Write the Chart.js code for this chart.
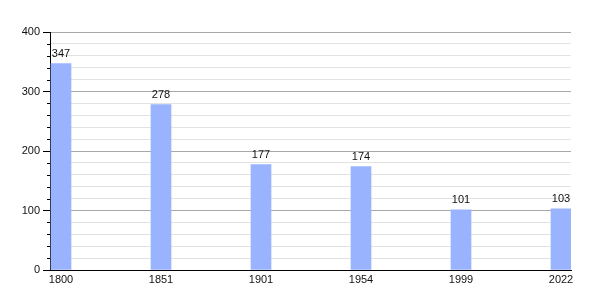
<!DOCTYPE html>
<html>
<head>
<meta charset="utf-8">
<script src="https://cdn.jsdelivr.net/npm/chart.js@4"></script>
<style>
  html, body { margin: 0; padding: 0; background: #fff; }
  #wrap { width: 600px; height: 300px; }
</style>
</head>
<body>
<div id="wrap"><canvas id="myChart"></canvas></div>
<script>
let years = ['1800', '1851', '1901', '1954', '1999', '2022'];
let population = [347, 278, 177, 174, 101, 103];
let yTicks = [0, 100, 200, 300, 400];

// value labels above each bar
let valueLabels = {
    id: 'valueLabels',
    afterDatasetsDraw: function(chart) {
        let c = chart.ctx;
        let meta = chart.getDatasetMeta(0);
        c.save();
        c.font = '11px "Liberation Sans", Arial, sans-serif';
        c.fillStyle = '#111';
        c.textAlign = 'center';
        c.textBaseline = 'bottom';
        meta.data.forEach(function(bar, i) {
            c.fillText(population[i], bar.x, bar.y - 4);
        });
        c.restore();
    }
};

// short minor ticks on the y axis
let minorTicks = {
    id: 'minorTicks',
    afterDraw: function(chart) {
        let y = chart.scales.y;
        let c = chart.ctx;
        c.save();
        c.strokeStyle = '#000';
        c.lineWidth = 1;
        for (let v = 20; v < 400; v += 20) {
            if (v % 100 === 0) continue;
            let py = Math.round(y.getPixelForValue(v)) + 0.5;
            c.beginPath();
            c.moveTo(y.right - 3, py);
            c.lineTo(y.right, py);
            c.stroke();
        }
        c.restore();
    }
};

let ctx = document.getElementById('myChart');
let myChart = new Chart(ctx, {
    type: 'bar',
    data: {
        datasets: [{
            data: population.map(function(v, i) { return { x: i, y: v }; }),
            backgroundColor: '#99b3ff',
            borderWidth: 0,
            barThickness: 20
        }]
    },
    plugins: [valueLabels, minorTicks],
    options: {
        responsive: true,
        maintainAspectRatio: false,
        animation: false,
        layout: { padding: { top: 32, right: 29, left: 0, bottom: 0 } },
        plugins: {
            legend: { display: false },
            tooltip: { enabled: false }
        },
        scales: {
            x: {
                type: 'linear',
                offset: false,
                min: -0.11,
                max: 5.1,
                afterBuildTicks: function(scale) {
                    scale.ticks = years.map(function(_, i) { return { value: i }; });
                },
                afterFit: function(scale) { scale.height = 30; },
                grid: { display: false, drawTicks: false, offset: false },
                border: { display: true, color: '#000', width: 1 },
                ticks: {
                    padding: 3,
                    color: '#111',
                    font: { family: '"Liberation Sans", Arial, sans-serif', size: 11 },
                    maxRotation: 0,
                    autoSkip: false,
                    callback: function(v) { return years[v]; }
                }
            },
            y: {
                min: 0,
                max: 400,
                afterFit: function(scale) { scale.width = 50; },
                ticks: {
                    stepSize: 20,
                    autoSkip: false,
                    padding: 3,
                    color: '#111',
                    font: { family: '"Liberation Sans", Arial, sans-serif', size: 11 },
                    callback: function(v) { return yTicks.indexOf(v) >= 0 ? v : ''; }
                },
                grid: {
                    color: function(c) {
                        if (c.tick.value === 0) return 'rgba(0,0,0,0)';
                        return c.tick.value % 100 === 0 ? '#a8a8a8' : '#e2e2e2';
                    },
                    tickColor: function(c) {
                        return c.tick.value % 100 === 0 ? '#000' : 'rgba(0,0,0,0)';
                    },
                    tickLength: 7
                },
                border: { color: '#000', width: 1 }
            }
        }
    }
});
</script>
</body>
</html>
